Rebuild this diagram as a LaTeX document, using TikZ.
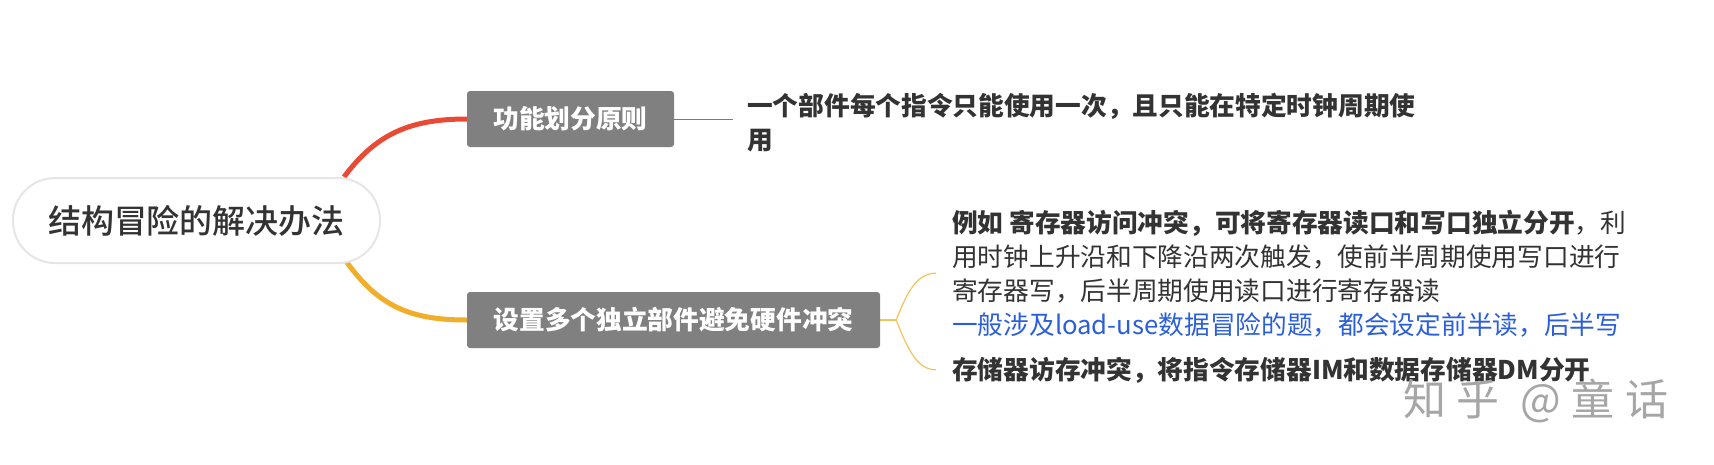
\documentclass[tikz,border=0pt]{standalone}
\usepackage{fontspec}
\setmainfont{Noto Sans CJK SC}
\newfontfamily\mediumfont{Noto Sans CJK SC Medium}
\usetikzlibrary{calc}
\definecolor{boxgray}{HTML}{808080}
\definecolor{textdark}{HTML}{333333}
\definecolor{linkblue}{HTML}{2B5FD9}
\definecolor{branchred}{HTML}{E94A35}
\definecolor{branchyellow}{HTML}{F0AE2B}
\definecolor{thinyellow}{HTML}{F2C55C}
\definecolor{thinred}{HTML}{D9534F}
\definecolor{rootborder}{HTML}{E6E6E6}
\pgfdeclarelayer{bg}
\pgfdeclarelayer{lines}
\pgfsetlayers{bg,lines,main}
\begin{document}
\begin{tikzpicture}[x=1pt,y=-1pt,
  rootbox/.style={draw=rootborder, line width=2pt, fill=white, rounded corners=42pt,
    minimum width=367pt, minimum height=85pt, inner sep=0pt, text=textdark,
    font=\mediumfont\fontsize{33}{40}\selectfont},
  catbox/.style={fill=boxgray, rounded corners=3pt, inner sep=0pt, text=white,
    minimum height=56pt, font=\bfseries\fontsize{25.7}{34}\selectfont},
  leaf/.style={inner xsep=16pt, inner ysep=0pt, align=left, text=textdark,
    font=\fontsize{25.7}{34}\selectfont},
  mainbranch/.style={line width=5pt},
  brace/.style={draw=thinyellow, line width=1.2pt},
]
\begin{pgfonlayer}{bg}
\fill[white] (0,0) rectangle (1714,464);
\end{pgfonlayer}
\useasboundingbox (0,0) rectangle (1714,464);

\node[rootbox] (root) at (196.5,220.5) {结构冒险的解决办法};
\node[catbox, minimum width=207pt] (n1) at (570.5,119) {功能划分原则};
\node[catbox, minimum width=413pt] (n2) at (673.5,320) {设置多个独立部件避免硬件冲突};

\node[leaf, inner xsep=14pt, font=\bfseries\fontsize{25.7}{34}\selectfont, anchor=base west] (t1) at (733,149)
  {一个部件每个指令只能使用一次，且只能在特定时钟周期使\\用};

\node[leaf, anchor=base west] (c1) at (936,334)
  {\textbf{例如 寄存器访问冲突，可将寄存器读口和写口独立分开}，利\\
   用时钟上升沿和下降沿两次触发，使前半周期使用写口进行\\
   寄存器写，后半周期使用读口进行寄存器读\\
   \textcolor{linkblue}{一般涉及load-use数据冒险的题，都会设定前半读，后半写}};

\node[leaf, font=\bfseries\fontsize{25.7}{34}\selectfont, anchor=base west] (c2) at (936,379)
  {存储器访存冲突，将指令存储器IM和数据存储器DM分开};

\node[anchor=base west, inner sep=0pt, text=black!35, font=\fontsize{43}{50}\selectfont\addfontfeatures{LetterSpace=25}] (wm) at (1403,415) {知乎 @童话};

\begin{pgfonlayer}{lines}
\draw[mainbranch, draw=branchred] ($(root.north east)+(-37,0)$) .. controls +(32,-43) and +(-57,0) .. (n1.west);
\draw[mainbranch, draw=branchyellow] ($(root.south east)+(-35,-3)$) .. controls +(32,45) and +(-57,0) .. (n2.west);
\draw[draw=thinred, line width=0.9pt] (n1.east) -- (n1.east -| t1.west);
\draw[brace] (n2.east) -- ++(16,0) coordinate (fork);
\draw[brace] (fork) .. controls +(12,-31) and +(-18,0) .. (c1.west);
\draw[brace] (fork) .. controls +(12,31) and +(-18,0) .. (c2.west);
\end{pgfonlayer}
\end{tikzpicture}
\end{document}
